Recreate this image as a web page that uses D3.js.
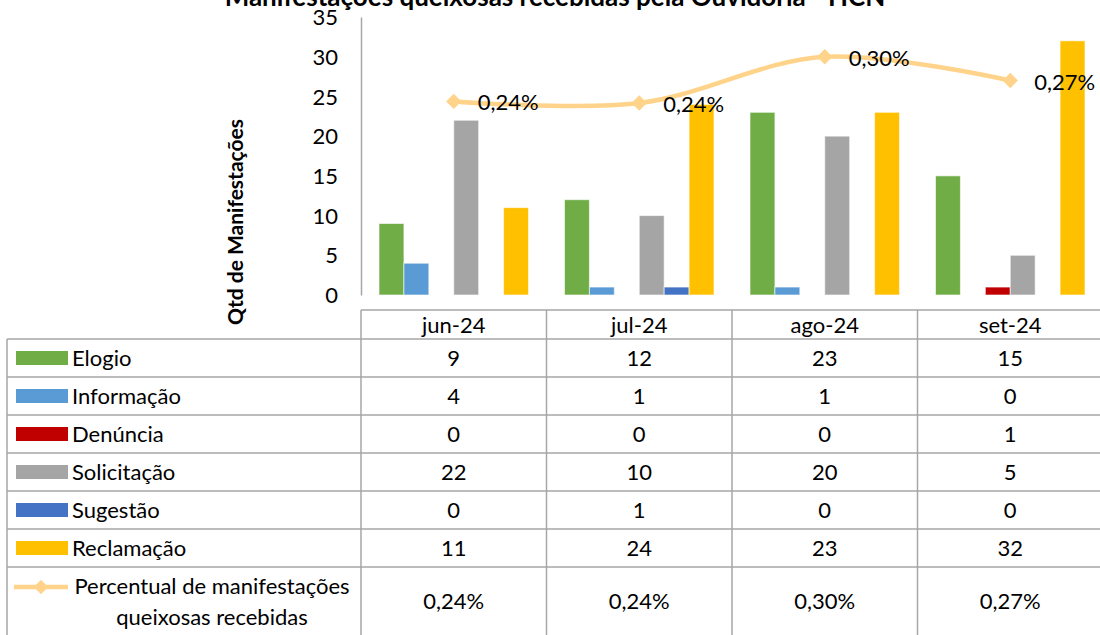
<!DOCTYPE html>
<html>
<head>
<meta charset="utf-8">
<script src="https://cdn.jsdelivr.net/npm/d3@7"></script>
<style>
  body { margin: 0; background: #fff; }
  svg { font-family: Lato, "Open Sans", sans-serif; }
  .axis text { font-size: 22px; fill: #000; font-family: Lato, sans-serif; }
  .cell { font-size: 22px; fill: #000; }
</style>
</head>
<body>
<svg width="1100" height="635"></svg>
<script>
// **** data ****
var months = ["jun-24", "jul-24", "ago-24", "set-24"];
var seriesNames = ["Elogio", "Informação", "Denúncia", "Solicitação", "Sugestão", "Reclamação"];
var elogio = [9, 12, 23, 15];
var informacao = [4, 1, 1, 0];
var denuncia = [0, 0, 0, 1];
var solicitacao = [22, 10, 20, 5];
var sugestao = [0, 1, 0, 0];
var reclamacao = [11, 24, 23, 32];
var percentual = [0.2437, 0.2417, 0.300, 0.270];
var lineName = ["Percentual de manifestações", "queixosas recebidas"];
var yTicks = [0, 5, 10, 15, 20, 25, 30, 35];

var seriesValues = [elogio, informacao, denuncia, solicitacao, sugestao, reclamacao];
var colors = ["#70AD47", "#5B9BD5", "#C00000", "#A5A5A5", "#4472C4", "#FFC000"];
var lineColor = "#FFD38A";
var gridColor = "#a6a6a6";

var svg = d3.select("svg");

// **** scales ****
var xScale = d3.scaleBand().domain(months).range([361, 1103]);
var subScale = d3.scaleBand().domain(seriesNames).range([18, xScale.bandwidth() - 18]);
var yScale = d3.scaleLinear().domain([0, 35]).range([295, 17]);
var pctScale = d3.scaleLinear().domain([0, 0.35]).range([295, 17]);
var rowScale = d3.scaleBand().domain(seriesNames).range([339, 567]);

var fmtPct = function(v) { return v.toFixed(2).replace(".", ",") + "%"; };

// **** title ****
svg.append("text")
    .attr("x", 555)
    .attr("y", 6)
    .attr("text-anchor", "middle")
    .style("font-weight", "bold")
    .style("font-size", "26px")
    .text("Manifestações queixosas recebidas pela Ouvidoria - HCN");

// **** y axis ****
var yAxis = svg.append("g").attr("class", "axis")
    .attr("transform", "translate(361,0)")
    .call(d3.axisLeft(yScale).tickValues(yTicks).tickSize(0).tickPadding(23));
yAxis.select(".domain").attr("stroke", gridColor).attr("stroke-width", 1.5);
yAxis.selectAll("text").attr("dy", "0.35em");

svg.append("text")
    .attr("transform", "translate(243,222) rotate(-90)")
    .attr("text-anchor", "middle")
    .style("font-weight", "bold")
    .style("font-size", "21px")
    .text("Qtd de Manifestações");

// **** bars ****
var barData = [];
seriesNames.forEach(function(s, si) {
    months.forEach(function(m, mi) {
        barData.push({ series: s, month: m, value: seriesValues[si][mi], color: colors[si] });
    });
});

svg.append("g")
    .selectAll("rect")
    .data(barData.filter(function(d) { return d.value > 0; }))
    .enter()
    .append("rect")
        .attr("x", function(d) { return xScale(d.month) + subScale(d.series); })
        .attr("y", function(d) { return yScale(d.value); })
        .attr("width", subScale.bandwidth())
        .attr("height", function(d) { return yScale(0) - yScale(d.value); })
        .attr("fill", function(d) { return d.color; })
        .attr("stroke", "#fff")
        .attr("stroke-opacity", 0.6)
        .attr("stroke-width", 1);

// **** line ****
var lineData = months.map(function(m, i) { return { month: m, value: percentual[i] }; });
var line = d3.line()
    .x(function(d) { return xScale(d.month) + xScale.bandwidth() / 2; })
    .y(function(d) { return pctScale(d.value); })
    .curve(d3.curveCatmullRom.alpha(0.5));

svg.append("path")
    .datum(lineData)
    .attr("d", line)
    .attr("fill", "none")
    .attr("stroke", lineColor)
    .attr("stroke-width", 4.5)
    .attr("stroke-linecap", "round");

var diamond = d3.symbol().type(d3.symbolDiamond2).size(150);
svg.append("g")
    .selectAll("path")
    .data(lineData)
    .enter()
    .append("path")
        .attr("d", diamond)
        .attr("transform", function(d) {
            return "translate(" + (xScale(d.month) + xScale.bandwidth() / 2) + "," + pctScale(d.value) + ")";
        })
        .attr("fill", lineColor);

svg.append("g")
    .selectAll("text")
    .data(lineData)
    .enter()
    .append("text")
        .attr("class", "cell")
        .attr("x", function(d) { return xScale(d.month) + xScale.bandwidth() / 2 + 24; })
        .attr("y", function(d) { return pctScale(d.value) + 9; })
        .text(function(d) { return fmtPct(d.value); });

// **** data table ****
var table = svg.append("g");
var tableTop = 310, tableBottom = 645, leftEdge = 7;

// header row
table.append("line").attr("x1", 361).attr("x2", 1103).attr("y1", tableTop).attr("y2", tableTop);
table.selectAll(".hdr")
    .data(months)
    .enter()
    .append("text")
        .attr("class", "cell")
        .attr("x", function(d) { return xScale(d) + xScale.bandwidth() / 2; })
        .attr("y", 333)
        .attr("text-anchor", "middle")
        .text(function(d) { return d; });

// horizontal lines
var hLines = seriesNames.map(function(s) { return rowScale(s); }).concat([567]);
table.selectAll(".hl")
    .data(hLines)
    .enter()
    .append("line")
        .attr("x1", leftEdge).attr("x2", 1103)
        .attr("y1", function(d) { return d; })
        .attr("y2", function(d) { return d; });

// vertical lines
table.append("line").attr("x1", leftEdge).attr("x2", leftEdge).attr("y1", 339).attr("y2", tableBottom);
table.selectAll(".vl")
    .data(months)
    .enter()
    .append("line")
        .attr("x1", function(d) { return xScale(d); })
        .attr("x2", function(d) { return xScale(d); })
        .attr("y1", tableTop).attr("y2", tableBottom);

table.selectAll("line").attr("stroke", gridColor).attr("stroke-width", 1.5);

// legend keys + names
seriesNames.forEach(function(s, si) {
    var cy = rowScale(s) + rowScale.bandwidth() / 2;
    table.append("rect")
        .attr("x", 16).attr("y", cy - 7)
        .attr("width", 52).attr("height", 14)
        .attr("fill", colors[si]);
    table.append("text")
        .attr("class", "cell")
        .attr("x", 72).attr("y", cy + 8)
        .text(s);
    months.forEach(function(m, mi) {
        table.append("text")
            .attr("class", "cell")
            .attr("x", xScale(m) + xScale.bandwidth() / 2)
            .attr("y", cy + 8)
            .attr("text-anchor", "middle")
            .text(seriesValues[si][mi]);
    });
});

// line series row
table.append("line")
    .attr("x1", 14).attr("x2", 68).attr("y1", 587).attr("y2", 587)
    .attr("stroke", lineColor).attr("stroke-width", 4.5);
table.append("path")
    .attr("d", d3.symbol().type(d3.symbolDiamond2).size(130))
    .attr("transform", "translate(41,587)")
    .attr("fill", lineColor);
lineName.forEach(function(t, i) {
    table.append("text")
        .attr("class", "cell")
        .attr("x", 212).attr("y", 594 + i * 31)
        .attr("text-anchor", "middle")
        .text(t);
});
months.forEach(function(m, mi) {
    table.append("text")
        .attr("class", "cell")
        .attr("x", xScale(m) + xScale.bandwidth() / 2)
        .attr("y", 609)
        .attr("text-anchor", "middle")
        .text(fmtPct(percentual[mi]));
});
</script>
</body>
</html>
